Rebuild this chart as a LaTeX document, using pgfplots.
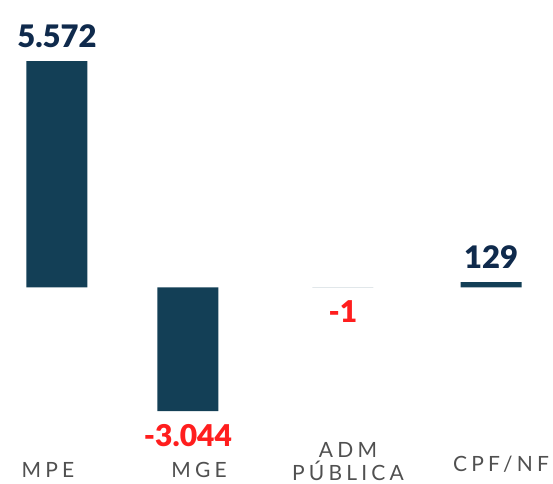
\documentclass[border=0pt]{standalone}
\usepackage{fontspec}
\setmainfont{Lato}
\newfontfamily\tickfont[LetterSpace=20]{Lato}
\newfontfamily\heavyfont{Lato Black}
\usepackage{pgfplots}
\pgfplotsset{compat=1.18}
\definecolor{barcol}{HTML}{133F56}
\definecolor{posnavy}{HTML}{0F2A4C}
\definecolor{negred}{HTML}{FF1E1E}
\definecolor{tickgray}{HTML}{505050}
\begin{document}
\begin{tikzpicture}
\begin{axis}[
  at={(0,0)}, anchor=south west,
  scale only axis, width=553pt, height=483pt,
  hide axis,
  xmin=-0.3939, xmax=3.4278,
  ymin=-4816.4, ymax=7073.8,
  ybar, bar width=61pt,
  /pgf/number format/.cd, 1000 sep={.}, assume math mode=true,
  /pgfplots/.cd,
  nodes near coords={\pgfmathfloatifflags{\pgfplotspointmeta}{-}{\color{negred}\fontsize{30}{30}\selectfont}{\color{posnavy}\fontsize{31}{31}\selectfont}\heavyfont\pgfmathprintnumber{\pgfplotspointmeta}},
  every node near coord/.append style={inner sep=13pt},
]
\addplot[fill=barcol, draw=none] coordinates {
  (0,5572) (0.905,-3044) (1.976,-1) (3,129)
};
\node[anchor=base, text=tickgray, font=\tickfont\fontsize{21}{23}\selectfont] at (axis description cs:0.0868,0.0104) {MPE};
\node[anchor=base, text=tickgray, font=\tickfont\fontsize{21}{23}\selectfont] at (axis description cs:0.3599,0.0104) {MGE};
\node[anchor=base, text=tickgray, font=\tickfont\fontsize{21}{23}\selectfont] at (axis description cs:0.6293,0.0538) {ADM};
\node[anchor=base, text=tickgray, font=\tickfont\fontsize{21}{23}\selectfont] at (axis description cs:0.6293,0.0062) {PÚBLICA};
\node[anchor=base, text=tickgray, font=\tickfont\fontsize{21}{23}\selectfont] at (axis description cs:0.9060,0.0228) {CPF/NF};
\end{axis}
\pgfresetboundingbox
\useasboundingbox (0,0) rectangle (553pt,483pt);
\end{tikzpicture}
\end{document}
